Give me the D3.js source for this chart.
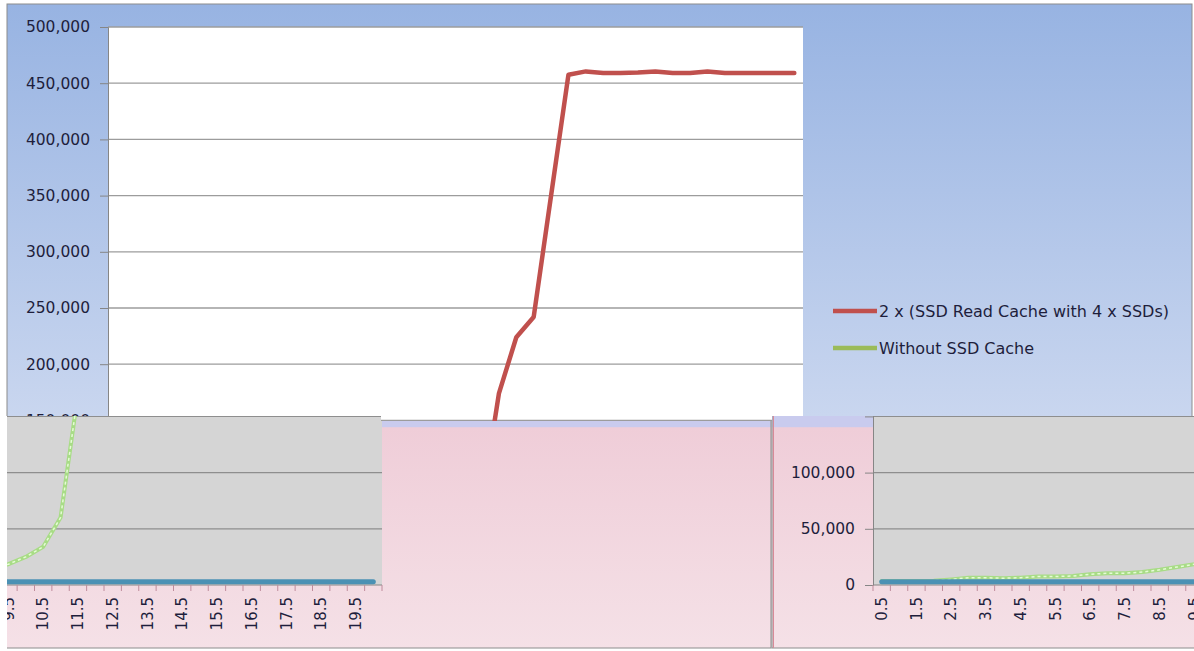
<!DOCTYPE html>
<html>
<head>
<meta charset="utf-8">
<script src="https://d3js.org/d3.v7.min.js"></script>
<style>
  body { margin: 0; background: #fff; }
  svg { display: block; font-family: "DejaVu Sans", sans-serif; }
</style>
</head>
<body>
<svg width="1194" height="651"></svg>
<script>
// x categories (every other one gets a label)
var categories = ["0.5","1","1.5","2","2.5","3","3.5","4","4.5","5","5.5","6","6.5","7","7.5","8","8.5","9","9.5","10",
                  "10.5","11","11.5","12","12.5","13","13.5","14","14.5","15","15.5","16","16.5","17","17.5","18","18.5","19","19.5","20"];
var labelled = ["0.5","1.5","2.5","3.5","4.5","5.5","6.5","7.5","8.5","9.5",
                "10.5","11.5","12.5","13.5","14.5","15.5","16.5","17.5","18.5","19.5"];
var yTicks = [0,50000,100000,150000,200000,250000,300000,350000,400000,450000,500000];

var seriesNames = ["2 x (SSD Read Cache with 4 x SSDs)", "Without SSD Cache"];

// 2 x (SSD Read Cache with 4 x SSDs)
var ssdCache = [null,null,null,null,null,null,null,null,null,null,
                null,null,null,null,null,null,null,null,null,null,
                null,75000,174000,224000,242000,350000,457500,460500,459000,459000,
                459500,460500,459000,459000,460500,459000,459000,459000,459000,459000];
// Without SSD Cache
var noCache = [3500,3500,3500,3800,5000,6500,6500,6000,6500,7500,
               7500,8000,9500,10500,10500,11500,13500,16000,18500,25000,
               34000,60000,170000,null,null,null,null,null,null,null,
               null,null,null,null,null,null,null,null,null,null];
// baseline series drawn in the lower strip
var baseline = [3000,3000,3000,3000,3000,3000,3000,3000,3000,3000,
                3000,3000,3000,3000,3000,3000,3000,3000,3000,3000,
                3000,3000,3000,3000,3000,3000,3000,3000,3000,3000,
                3000,3000,3000,3000,3000,3000,3000,3000,3000,3000];

var colors = {red: "#c0504d", green: "#9bbb59", teal: "#4b91b4"};
var W = 1186;   // chart width (the lower strip wraps around by this much)

var svg = d3.select("svg");
var defs = svg.append("defs");

var gTop = defs.append("linearGradient").attr("id","bgTop")
  .attr("gradientUnits","userSpaceOnUse").attr("x1",0).attr("y1",0).attr("x2",0).attr("y2",416);
gTop.append("stop").attr("offset",0).attr("stop-color","#97b3e2");
gTop.append("stop").attr("offset",1).attr("stop-color","#c9d6ef");

var gLow = defs.append("linearGradient").attr("id","bgLow")
  .attr("gradientUnits","userSpaceOnUse").attr("x1",0).attr("y1",416).attr("x2",0).attr("y2",651);
gLow.append("stop").attr("offset",0).attr("stop-color","#c9cbee");
gLow.append("stop").attr("offset",0.045).attr("stop-color","#c9cbee");
gLow.append("stop").attr("offset",0.05).attr("stop-color","#efcdd8");
gLow.append("stop").attr("offset",1).attr("stop-color","#f5e1e7");

var cTop = defs.append("clipPath").attr("id","clipTop");
cTop.append("rect").attr("x",0).attr("y",0).attr("width",1194).attr("height",416);
cTop.append("rect").attr("x",381).attr("y",0).attr("width",391).attr("height",421);

var cLow = defs.append("clipPath").attr("id","clipLow");
cLow.append("rect").attr("x",7).attr("y",416).attr("width",374).attr("height",235);
cLow.append("rect").attr("x",381).attr("y",421).attr("width",391).attr("height",230);
cLow.append("rect").attr("x",772).attr("y",416).attr("width",422).attr("height",235);

function drawChart(g, cfg) {
  var x = d3.scaleBand().domain(categories).range([101, 796]);
  var y = d3.scaleLinear().domain([0, 500000]).range([cfg.bottom, cfg.bottom - 562]);
  var half = x.bandwidth() / 2;

  g.append("rect").attr("x",0).attr("y",4).attr("width",W - 1).attr("height",644)
    .attr("fill", cfg.bg).attr("stroke","#8c8c8c");
  if (cfg.fringe) {
    g.append("line").attr("x1",1.5).attr("x2",1.5).attr("y1",4).attr("y2",648)
      .attr("stroke","#d88a98").attr("stroke-width",1);
  }

  g.append("rect").attr("x",101).attr("y",y(500000)).attr("width",695).attr("height",y(0) - y(500000))
    .attr("fill", cfg.plot);

  g.append("g").selectAll("line").data(yTicks.filter(function(d) { return d > 0; })).enter().append("line")
    .attr("x1",101).attr("x2",796)
    .attr("y1",function(d) { return y(d); }).attr("y2",function(d) { return y(d); })
    .attr("stroke", cfg.grid).attr("stroke-width",1.3);

  var ya = g.append("g").attr("transform","translate(101,0)")
    .call(d3.axisLeft(y).tickValues(yTicks).tickFormat(d3.format(",")).tickSize(8).tickPadding(10));
  ya.select(".domain").attr("stroke","#868686");
  ya.selectAll(".tick line").attr("stroke","#868686");
  ya.selectAll("text").attr("fill","#1e1e3c").style("font-size","15.5px").style("font-family","DejaVu Sans")
    .style("display",function(d) { return d > cfg.labelMax ? "none" : null; });

  // category axis: tick marks between categories, labels on every other one
  g.append("line").attr("x1",101).attr("x2",796).attr("y1",y(0)).attr("y2",y(0)).attr("stroke","#868686");
  g.append("g").selectAll("line").data(categories.concat(["end"])).enter().append("line")
    .attr("x1",function(d) { return d === "end" ? 796 : x(d); })
    .attr("x2",function(d) { return d === "end" ? 796 : x(d); })
    .attr("y1",y(0)).attr("y2",y(0) + 6)
    .attr("stroke","#bf8c9c");
  var xa = g.append("g").attr("transform","translate(0," + y(0) + ")")
    .call(d3.axisBottom(x).tickValues(labelled).tickSize(0));
  xa.select(".domain").remove();
  xa.selectAll("text")
    .attr("y",0).attr("x",-12).attr("dy","0.35em")
    .attr("transform","rotate(-90)")
    .style("text-anchor","end").style("font-size","15px").style("font-family","DejaVu Sans")
    .attr("fill","#1e1e3c");

  cfg.series.forEach(function(s) {
    var line = d3.line()
      .defined(function(d) { return d != null; })
      .x(function(d, i) { return x(categories[i]) + half; })
      .y(function(d) { return y(d); });
    g.append("path").datum(s.values).attr("d", line)
      .attr("fill","none").attr("stroke", s.color).attr("stroke-width", s.width)
      .attr("stroke-linejoin","round").attr("stroke-linecap","round");
    if (s.dash) {
      g.append("path").datum(s.values).attr("d", line)
        .attr("fill","none").attr("stroke","#e6fbd6").attr("stroke-width",1.5)
        .attr("stroke-dasharray","3,3");
    }
  });

  if (cfg.legend) {
    var lg = g.append("g").attr("transform","translate(826,311)");
    var items = lg.selectAll("g").data(seriesNames).enter().append("g")
      .attr("transform",function(d, i) { return "translate(0," + i * 37 + ")"; });
    items.append("line").attr("x1",0).attr("x2",44).attr("y1",0).attr("y2",0)
      .attr("stroke-width",4.5)
      .attr("stroke",function(d, i) { return i === 0 ? colors.red : colors.green; });
    items.append("text").attr("x",46).attr("dy","0.35em")
      .style("font-size","16px").attr("fill","#1e1e3c")
      .text(function(d) { return d; });
  }
}

// upper part of the picture
var upperG = svg.append("g").attr("clip-path","url(#clipTop)")
  .append("g").attr("transform","translate(7,0)");
drawChart(upperG, {bottom: 589, bg: "url(#bgTop)", plot: "#ffffff", grid: "#9c9c9c", legend: true,
  labelMax: 500000, series: [{values: ssdCache, color: colors.red, width: 4.5}]});

// lower strip, shifted and wrapped around
var lowerG = svg.append("g").attr("clip-path","url(#clipLow)");
[772, 772 - W].forEach(function(ox) {
  var g = lowerG.append("g").attr("transform","translate(" + ox + ",0)");
  drawChart(g, {bottom: 585, bg: "url(#bgLow)", plot: "#d5d5d5", grid: "#8e8e8e", legend: false,
    labelMax: 100000, fringe: true,
    series: [{values: noCache, color: "#a8dc86", width: 4, dash: true},
             {values: baseline, color: colors.teal, width: 5}]});
});
</script>
</body>
</html>
